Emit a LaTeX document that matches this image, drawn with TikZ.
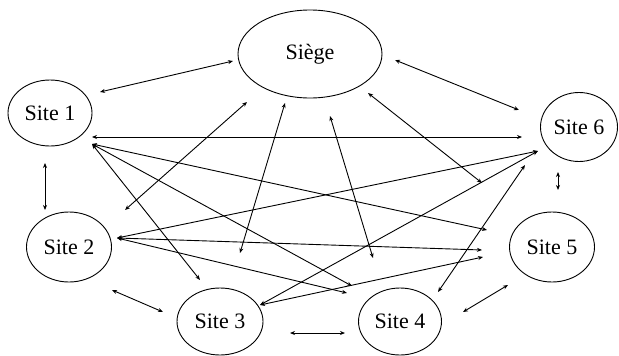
\documentclass[tikz,border=0pt]{standalone}
\usepackage{fontspec}
\setmainfont{Liberation Serif}
\usetikzlibrary{shapes.geometric,arrows.meta}
\begin{document}
\begin{tikzpicture}[x=1pt,y=-1pt,
  site/.style={draw,ellipse,line width=0.9pt,inner sep=0pt,
    font=\fontsize{22}{24}\selectfont},
  link/.style={line width=0.9pt,
    {Stealth[length=5pt,width=4pt]}-{Stealth[length=5pt,width=4pt]}}]
\useasboundingbox (0,0) rectangle (619,356);

% sites
\node[site,minimum width=144pt,minimum height=88pt] (siege) at (310,54) {Siège};
\node[site,minimum width=84pt,minimum height=66pt] (s1) at (50,113) {Site 1};
\node[site,minimum width=85pt,minimum height=70pt] (s2) at (69,247) {Site 2};
\node[site,minimum width=86pt,minimum height=67pt] (s3) at (220,321.5) {Site 3};
\node[site,minimum width=83pt,minimum height=67pt] (s4) at (400,321.5) {Site 4};
\node[site,minimum width=85pt,minimum height=70pt] (s5) at (552,247) {Site 5};
\node[site,minimum width=77pt,minimum height=69pt] (s6) at (579,127) {Site 6};

% arrow end points around each ellipse
\coordinate (s1hub) at (92,144);
\coordinate (s1top) at (92,137);
\coordinate (s2hub) at (117,238);
\coordinate (s3hub) at (260,305);
\coordinate (s6hub) at (538,151);

% neighbours
\coordinate (a1) at (100,92);   \coordinate (a2) at (233,61);
\coordinate (b1) at (395,60);   \coordinate (b2) at (519,110);
\coordinate (c1) at (45,163);   \coordinate (c2) at (45,210);
\coordinate (d1) at (558,172);  \coordinate (d2) at (558,190);
\coordinate (e1) at (112,290);  \coordinate (e2) at (163,312);
\coordinate (f1) at (290,333);  \coordinate (f2) at (345,333);
\coordinate (g1) at (463,312);  \coordinate (g2) at (508,285);
\draw[link] (a1) -- (a2);
\draw[link] (b1) -- (b2);
\draw[link] (c1) -- (c2);
\draw[link] (d1) -- (d2);
\draw[link] (e1) -- (e2);
\draw[link] (f1) -- (f2);
\draw[link] (g1) -- (g2);

% long links between sites
\coordinate (s6left) at (522,137);
\coordinate (s3top) at (200,280);
\coordinate (s4a) at (352,286);
\coordinate (s4b) at (347,293);
\coordinate (s5a) at (487,230);
\coordinate (s5b) at (482,250);
\coordinate (s5c) at (483,257);
\coordinate (s4up) at (438,292);
\coordinate (s6low) at (525,165);
\draw[link] (s1top) -- (s6left);
\draw[link] (s1hub) -- (s3top);
\draw[link] (s1hub) -- (s4a);
\draw[link] (s1hub) -- (s5a);
\draw[link] (s2hub) -- (s6hub);
\draw[link] (s2hub) -- (s5b);
\draw[link] (s2hub) -- (s4b);
\draw[link] (s3hub) -- (s6hub);
\draw[link] (s3hub) -- (s5c);
\draw[link] (s4up) -- (s6low);

% links to the head office
\coordinate (h2a) at (125,210); \coordinate (h2b) at (247,102);
\coordinate (h3a) at (240,253); \coordinate (h3b) at (285,103);
\coordinate (h4a) at (373,258); \coordinate (h4b) at (330,116);
\coordinate (h5a) at (482,183); \coordinate (h5b) at (368,93);
\draw[link] (h2a) -- (h2b);
\draw[link] (h3a) -- (h3b);
\draw[link] (h4a) -- (h4b);
\draw[link] (h5a) -- (h5b);
\end{tikzpicture}
\end{document}
